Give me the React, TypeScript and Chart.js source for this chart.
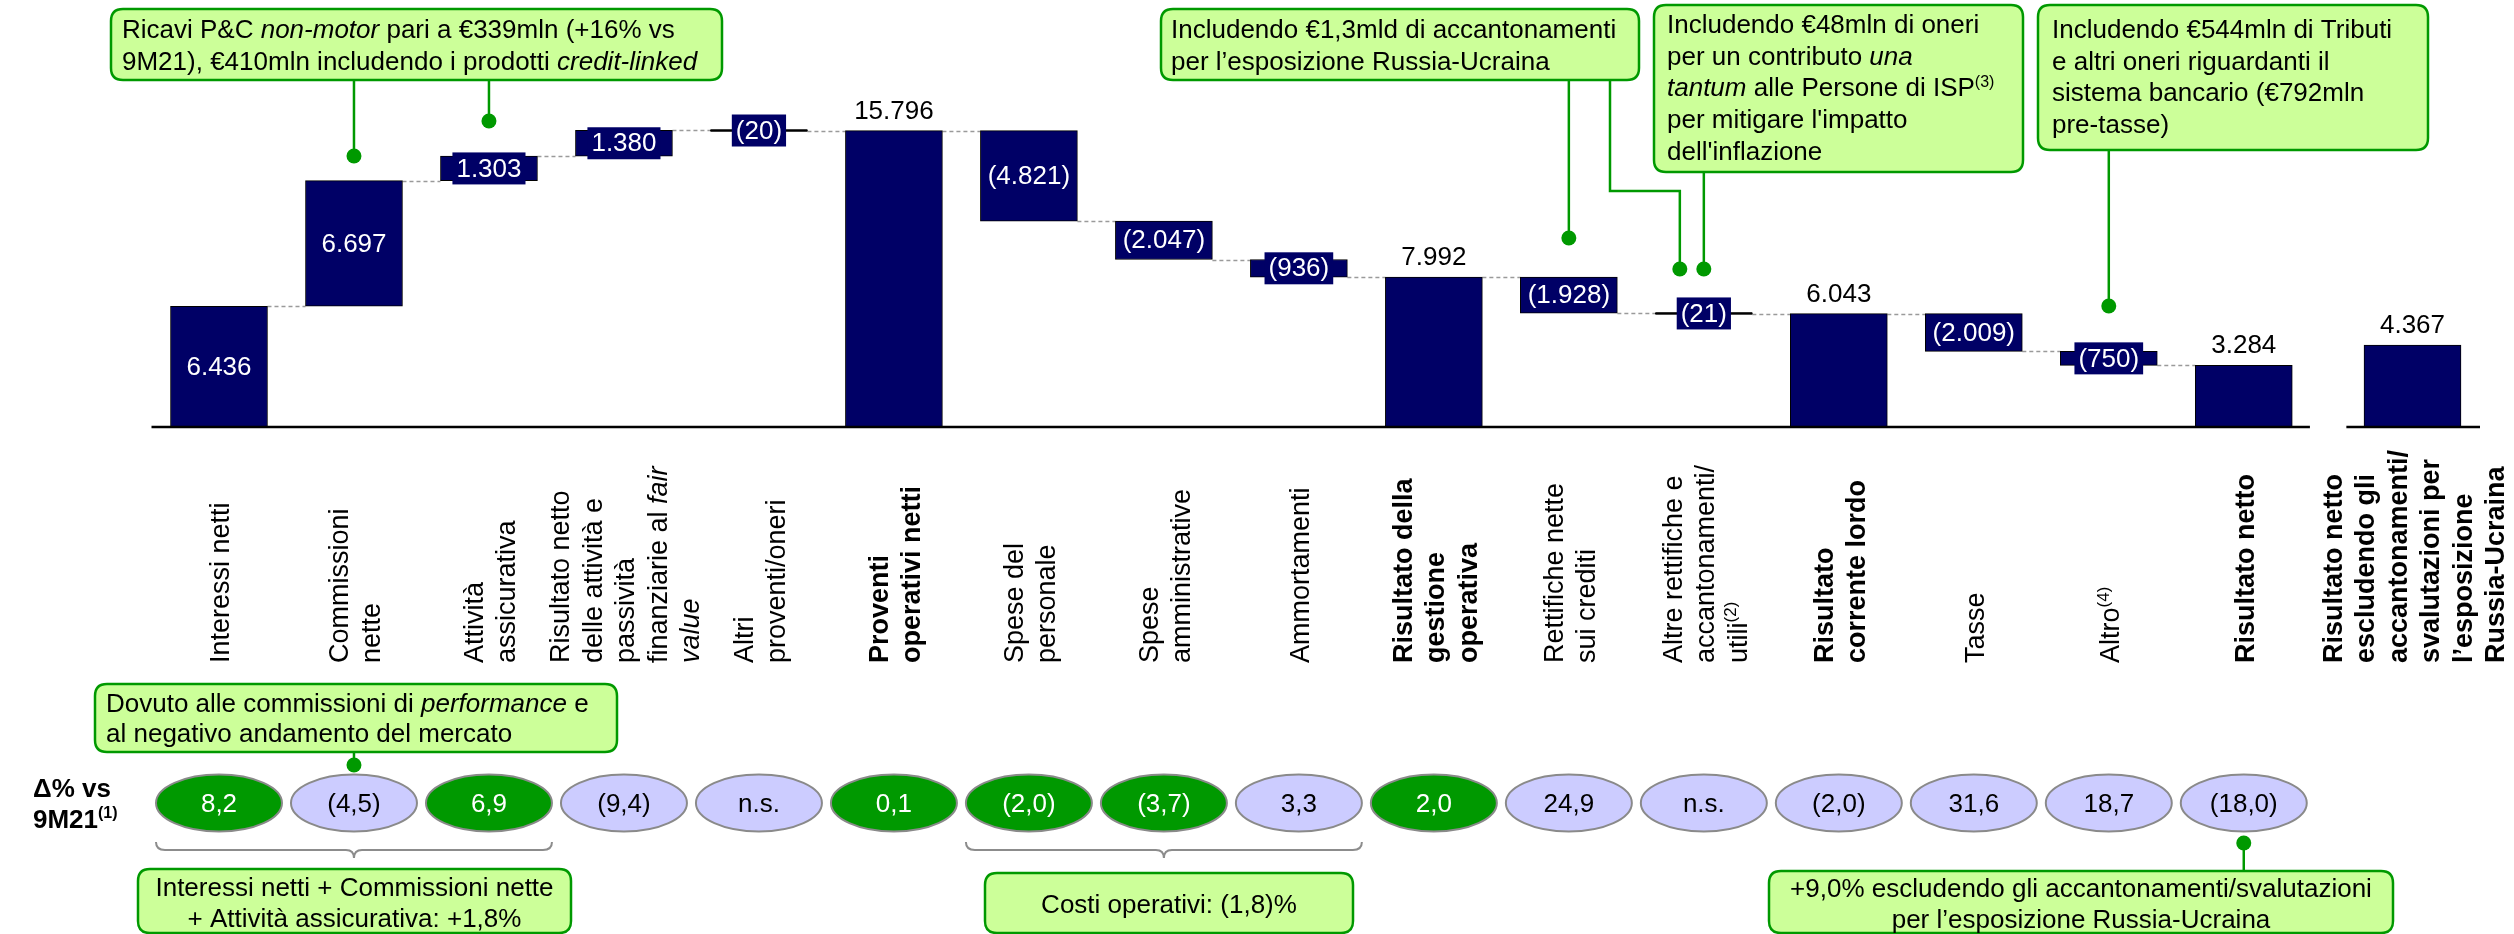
import React, { useEffect, useRef } from "react";
import { Chart, registerables } from "chart.js";

Chart.register(...registerables);

const FONT = '"Liberation Sans", Arial, Helvetica, sans-serif';
const NAVY = "#000066";
const GREEN = "#009900";
const LAVENDER = "#CCCCFF";
const CALLOUT_FILL = "#CCFF99";

// ---------- data ----------
const categoryLabels: string[][] = [
  ["Interessi netti"],
  ["Commissioni", "nette"],
  ["Attività", "assicurativa"],
  ["Risultato netto", "delle attività e", "passività", "finanziarie al *fair*", "*value*"],
  ["Altri", "proventi/oneri"],
  ["Proventi", "operativi netti"],
  ["Spese del", "personale"],
  ["Spese", "amministrative"],
  ["Ammortamenti"],
  ["Risultato della", "gestione", "operativa"],
  ["Rettifiche nette", "sui crediti"],
  ["Altre rettifiche e", "accantonamenti/", "utili^(2)^"],
  ["Risultato", "corrente lordo"],
  ["Tasse"],
  ["Altro^(4)^"],
  ["Risultato netto"],
  ["Risultato netto", "escludendo gli", "accantonamenti/", "svalutazioni per", "l’esposizione", "Russia-Ucraina"],
];
const boldLabels = [false, false, false, false, false, true, false, false, false, true, false, false, true, false, false, true, true];
const barValues = [6436, 6697, 1303, 1380, -20, 15796, -4821, -2047, -936, 7992, -1928, -21, 6043, -2009, -750, 3284, 4367];
const isTotal = [false, false, false, false, false, true, false, false, false, true, false, false, true, false, false, true, true];
const deltaPct: (number | null)[] = [8.2, -4.5, 6.9, -9.4, null, 0.1, -2.0, -3.7, 3.3, 2.0, 24.9, null, -2.0, 31.6, 18.7, -18.0];
const deltaHighlighted = [true, false, true, false, false, true, true, true, false, true, false, false, false, false, false, false];
const deltaTitle = ["Δ% vs", "9M21^(1)^"];
const braceGroups: [number, number][] = [[0, 2], [6, 8]];

// index of the stand-alone bar, drawn after an axis break
const SEPARATE_INDEX = 16;
const SEPARATE_GAP = 0.25;

type Link = { cat: number; dx?: number; y0: number; dotY: number; elbowFrom?: [number, number] };
type Callout = {
  box: [number, number, number, number];
  align: "left" | "center";
  textX: number;
  baseline: number;
  lh: number;
  lines: string[];
  links: Link[];
};

const callouts: Callout[] = [
  {
    box: [111, 9, 722, 80], align: "left", textX: 122, baseline: 38, lh: 32,
    lines: ["Ricavi P&C *non-motor* pari a €339mln (+16% vs", "9M21), €410mln includendo i prodotti *credit-linked*"],
    links: [{ cat: 1, y0: 80, dotY: 156 }, { cat: 2, y0: 80, dotY: 121 }],
  },
  {
    box: [1161, 9, 1639, 80], align: "left", textX: 1171, baseline: 38, lh: 32,
    lines: ["Includendo €1,3mld di accantonamenti", "per l’esposizione Russia-Ucraina"],
    links: [{ cat: 10, y0: 80, dotY: 238 }, { cat: 11, dx: -24, y0: 191, dotY: 269, elbowFrom: [1610, 80] }],
  },
  {
    box: [1654, 5, 2023, 172], align: "left", textX: 1667, baseline: 33, lh: 31.7,
    lines: ["Includendo €48mln di oneri", "per un contributo *una*", "*tantum* alle Persone di ISP^(3)^", "per mitigare l'impatto", "dell'inflazione"],
    links: [{ cat: 11, y0: 172, dotY: 269 }],
  },
  {
    box: [2038, 5, 2428, 150], align: "left", textX: 2052, baseline: 38, lh: 31.7,
    lines: ["Includendo €544mln di Tributi", "e altri oneri riguardanti il", "sistema bancario (€792mln", "pre-tasse)"],
    links: [{ cat: 14, y0: 150, dotY: 306 }],
  },
  {
    box: [95, 684, 617, 752], align: "left", textX: 106, baseline: 712, lh: 30,
    lines: ["Dovuto alle commissioni di *performance* e", "al negativo andamento del mercato"],
    links: [{ cat: 1, y0: 752, dotY: 765 }],
  },
  {
    box: [138, 869, 571, 933], align: "center", textX: 354.5, baseline: 896, lh: 31,
    lines: ["Interessi netti + Commissioni nette", "+ Attività assicurativa: +1,8%"],
    links: [],
  },
  {
    box: [985, 873, 1353, 933], align: "center", textX: 1169, baseline: 913, lh: 31,
    lines: ["Costi operativi: (1,8)%"],
    links: [],
  },
  {
    box: [1769, 871, 2393, 933], align: "center", textX: 2081, baseline: 897, lh: 31,
    lines: ["+9,0% escludendo gli accantonamenti/svalutazioni", "per l’esposizione Russia-Ucraina"],
    links: [{ cat: 15, y0: 871, dotY: 843 }],
  },
];

// ---------- helpers ----------
function fmtThousands(n: number) {
  const s = Math.round(Math.abs(n)).toString().replace(/\B(?=(\d{3})+(?!\d))/g, ".");
  return n < 0 ? `(${s})` : s;
}
function fmtPct(v: number | null) {
  if (v === null) return "n.s.";
  const s = Math.abs(v).toFixed(1).replace(".", ",");
  return v < 0 ? `(${s})` : s;
}
const xPos = (i: number) => (i >= SEPARATE_INDEX ? i + SEPARATE_GAP : i);

type Seg = { t: string; i: boolean; sup: boolean };
function parseRich(s: string): Seg[] {
  const out: Seg[] = [];
  const re = /\*([^*]+)\*|\^([^^]+)\^|([^*^]+)/g;
  let m: RegExpExecArray | null;
  while ((m = re.exec(s))) {
    if (m[1] !== undefined) out.push({ t: m[1], i: true, sup: false });
    else if (m[2] !== undefined) out.push({ t: m[2], i: false, sup: true });
    else out.push({ t: m[3], i: false, sup: false });
  }
  return out;
}
function segFont(seg: Seg, size: number, bold: boolean) {
  const s = seg.sup ? Math.round(size * 0.62) : size;
  return `${seg.i ? "italic " : ""}${bold ? "bold " : ""}${s}px ${FONT}`;
}
function richWidth(ctx: CanvasRenderingContext2D, segs: Seg[], size: number, bold: boolean) {
  let w = 0;
  for (const seg of segs) {
    ctx.font = segFont(seg, size, bold);
    w += ctx.measureText(seg.t).width;
  }
  return w;
}
function drawRich(
  ctx: CanvasRenderingContext2D, text: string, x: number, y: number, size: number,
  bold: boolean, align: "left" | "center", color: string
) {
  const segs = parseRich(text);
  let cx = x;
  if (align === "center") cx = x - richWidth(ctx, segs, size, bold) / 2;
  ctx.fillStyle = color;
  ctx.textAlign = "left";
  ctx.textBaseline = "alphabetic";
  for (const seg of segs) {
    ctx.font = segFont(seg, size, bold);
    ctx.fillText(seg.t, cx, seg.sup ? y - size * 0.38 : y);
    cx += ctx.measureText(seg.t).width;
  }
}
function roundRectPath(ctx: CanvasRenderingContext2D, x0: number, y0: number, x1: number, y1: number, r: number) {
  ctx.beginPath();
  ctx.moveTo(x0 + r, y0);
  ctx.lineTo(x1 - r, y0);
  ctx.quadraticCurveTo(x1, y0, x1, y0 + r);
  ctx.lineTo(x1, y1 - r);
  ctx.quadraticCurveTo(x1, y1, x1 - r, y1);
  ctx.lineTo(x0 + r, y1);
  ctx.quadraticCurveTo(x0, y1, x0, y1 - r);
  ctx.lineTo(x0, y0 + r);
  ctx.quadraticCurveTo(x0, y0, x0 + r, y0);
  ctx.closePath();
}

// waterfall ranges + running levels
function buildWaterfall() {
  const ranges: [number, number][] = [];
  const levels: number[] = [];
  let run = 0;
  barValues.forEach((v, i) => {
    if (isTotal[i]) {
      ranges.push([0, v]);
      run = v;
    } else {
      const a = run, b = run + v;
      ranges.push([Math.min(a, b), Math.max(a, b)]);
      run = b;
    }
    levels.push(run);
  });
  return { ranges, levels };
}

const overlayPlugin = {
  id: "waterfallOverlay",
  beforeDatasetsDraw(chart: any) {
    const ctx: CanvasRenderingContext2D = chart.ctx;
    const meta = chart.getDatasetMeta(0);
    const y = chart.scales.y;
    const { levels } = buildWaterfall();
    ctx.save();
    ctx.strokeStyle = "#9a9a9a";
    ctx.lineWidth = 1.5;
    ctx.setLineDash([4, 3]);
    for (let i = 0; i < 15; i++) {
      const a = meta.data[i], b = meta.data[i + 1];
      const py = Math.round(y.getPixelForValue(levels[i])) + 0.5;
      ctx.beginPath();
      ctx.moveTo(a.x + a.width / 2, py);
      ctx.lineTo(b.x - b.width / 2, py);
      ctx.stroke();
    }
    ctx.restore();
  },
  afterDraw(chart: any) {
    const ctx: CanvasRenderingContext2D = chart.ctx;
    const meta = chart.getDatasetMeta(0);
    const xs = chart.scales.x;
    const ys = chart.scales.y;
    const catX = (i: number) => xs.getPixelForValue(xPos(i));
    const baseY = ys.getPixelForValue(0);
    ctx.save();

    // thin bars shown as black lines
    meta.data.forEach((el: any) => {
      const top = Math.min(el.y, el.base), bot = Math.max(el.y, el.base);
      if (bot - top < 4) {
        ctx.fillStyle = "#000";
        ctx.fillRect(el.x - el.width / 2, (top + bot) / 2 - 1.25, el.width, 2.5);
      }
    });

    // axis baseline with a break before the stand-alone bar
    ctx.strokeStyle = "#000";
    ctx.lineWidth = 2.5;
    const segs: [number, number][] = [[-0.5, 15.49], [15.76, 16.75]];
    segs.forEach(([a, b]) => {
      ctx.beginPath();
      ctx.moveTo(xs.getPixelForValue(a), baseY);
      ctx.lineTo(xs.getPixelForValue(b), baseY);
      ctx.stroke();
    });

    // value labels
    meta.data.forEach((el: any, i: number) => {
      const top = Math.min(el.y, el.base), bot = Math.max(el.y, el.base);
      const h = bot - top;
      const txt = fmtThousands(barValues[i]);
      ctx.font = `26px ${FONT}`;
      ctx.textAlign = "center";
      if (isTotal[i]) {
        ctx.fillStyle = "#000";
        ctx.textBaseline = "alphabetic";
        ctx.fillText(txt, el.x, top - 12);
      } else if (h >= 34) {
        ctx.fillStyle = "#fff";
        ctx.textBaseline = "middle";
        ctx.fillText(txt, el.x, (top + bot) / 2 + 1);
      } else {
        const w = ctx.measureText(txt).width + 8;
        const my = (top + bot) / 2;
        ctx.fillStyle = NAVY;
        ctx.fillRect(el.x - w / 2, my - 16, w, 32);
        ctx.fillStyle = "#fff";
        ctx.textBaseline = "middle";
        ctx.fillText(txt, el.x, my + 1);
      }
    });

    // rotated category labels
    const LH = 32.5;
    categoryLabels.forEach((lines, i) => {
      const cx = catX(i);
      const n = lines.length;
      lines.forEach((line, j) => {
        const bx = cx - (n * LH) / 2 + (j + 1) * LH - 6;
        ctx.save();
        ctx.translate(bx, 663);
        ctx.rotate(-Math.PI / 2);
        drawRich(ctx, line, 0, 0, 27, boldLabels[i], "left", "#000");
        ctx.restore();
      });
    });

    // delta row
    deltaTitle.forEach((t, j) => drawRich(ctx, t, 33, 797 + j * 31, 26, true, "left", "#000"));
    deltaPct.forEach((v, i) => {
      const cx = catX(i);
      ctx.beginPath();
      ctx.ellipse(cx, 803, 63, 28.5, 0, 0, Math.PI * 2);
      ctx.fillStyle = deltaHighlighted[i] ? GREEN : LAVENDER;
      ctx.fill();
      ctx.strokeStyle = "#8a8a8a";
      ctx.lineWidth = 2;
      ctx.stroke();
      ctx.font = `26px ${FONT}`;
      ctx.textAlign = "center";
      ctx.textBaseline = "middle";
      ctx.fillStyle = deltaHighlighted[i] ? "#fff" : "#000";
      ctx.fillText(fmtPct(v), cx, 805);
    });

    // braces
    ctx.strokeStyle = "#8c8c8c";
    ctx.lineWidth = 2;
    braceGroups.forEach(([a, b]) => {
      const x0 = catX(a) - 63, x1 = catX(b) + 63, mid = (catX(a) + catX(b)) / 2;
      const yT = 842, yL = 850, yTip = 858;
      ctx.beginPath();
      ctx.moveTo(x0, yT);
      ctx.quadraticCurveTo(x0, yL, x0 + 9, yL);
      ctx.lineTo(mid - 8, yL);
      ctx.quadraticCurveTo(mid, yL, mid, yTip);
      ctx.quadraticCurveTo(mid, yL, mid + 8, yL);
      ctx.lineTo(x1 - 9, yL);
      ctx.quadraticCurveTo(x1, yL, x1, yT);
      ctx.stroke();
    });

    // callouts
    callouts.forEach((c) => {
      ctx.strokeStyle = GREEN;
      ctx.fillStyle = GREEN;
      ctx.lineWidth = 2.5;
      c.links.forEach((l) => {
        const lx = catX(l.cat) + (l.dx || 0);
        ctx.beginPath();
        if (l.elbowFrom) {
          ctx.moveTo(l.elbowFrom[0], l.elbowFrom[1]);
          ctx.lineTo(l.elbowFrom[0], l.y0);
          ctx.lineTo(lx, l.y0);
        } else {
          ctx.moveTo(lx, l.y0);
        }
        ctx.lineTo(lx, l.dotY);
        ctx.stroke();
        ctx.beginPath();
        ctx.arc(lx, l.dotY, 7.5, 0, Math.PI * 2);
        ctx.fill();
      });
      const [x0, y0, x1, y1] = c.box;
      roundRectPath(ctx, x0, y0, x1, y1, 12);
      ctx.fillStyle = CALLOUT_FILL;
      ctx.fill();
      ctx.strokeStyle = GREEN;
      ctx.lineWidth = 2.5;
      ctx.stroke();
      c.lines.forEach((line, j) =>
        drawRich(ctx, line, c.textX, c.baseline + j * c.lh, 26, false, c.align, "#000")
      );
    });

    ctx.restore();
  },
};

export default function App() {
  const ref = useRef<HTMLCanvasElement | null>(null);
  useEffect(() => {
    if (!ref.current) return;
    const { ranges } = buildWaterfall();
    const chart = new Chart(ref.current, {
      type: "bar",
      data: {
        datasets: [
          {
            data: ranges.map((r, i) => ({ x: xPos(i), y: r })) as any,
            backgroundColor: NAVY,
            borderColor: "#000",
            borderWidth: 1,
            barThickness: 97,
            borderSkipped: false,
          },
        ],
      },
      options: {
        animation: false,
        responsive: false,
        events: [],
        layout: { padding: { left: 151.5, right: 34, top: 10, bottom: 507 } },
        scales: {
          x: { type: "linear", min: -0.5, max: 16.75, display: false, offset: false, grid: { offset: false } },
          y: { min: 0, max: 22230, display: false },
        },
        plugins: { legend: { display: false }, tooltip: { enabled: false } },
      },
      plugins: [overlayPlugin as any],
    });
    return () => chart.destroy();
  }, []);
  return (
    <div style={{ position: "fixed", left: 0, top: 0, width: 2514, height: 934, background: "#fff" }}>
      <canvas ref={ref} width={2514} height={934} style={{ display: "block" }} />
    </div>
  );
}
